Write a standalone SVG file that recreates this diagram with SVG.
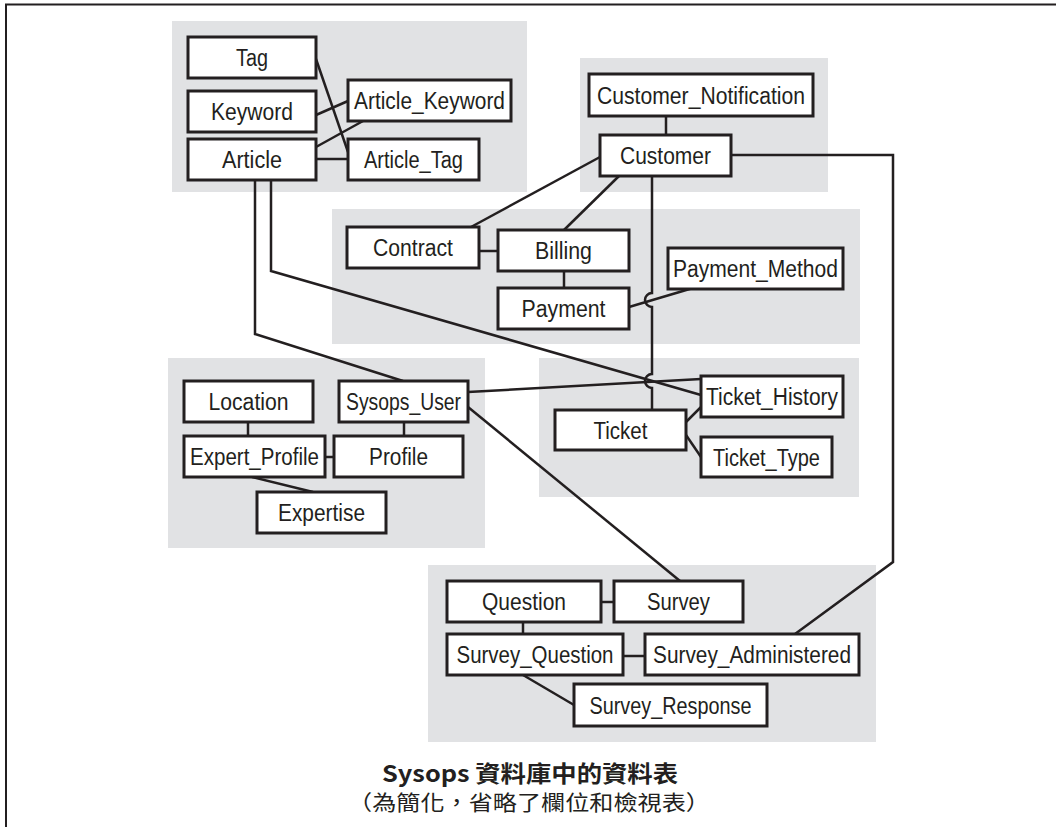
<svg xmlns="http://www.w3.org/2000/svg" width="1056" height="827" viewBox="0 0 1056 827">
<style>
.grp{fill:#e1e2e4}
.box{fill:#fff;stroke:#231f20;stroke-width:3}
.lbl{font-family:"Liberation Sans",Arial,sans-serif;font-size:23px;fill:#231f20;text-anchor:middle}
.ln{fill:none;stroke:#231f20;stroke-width:2.5;stroke-linejoin:miter}
.cap{font-family:"Noto Sans CJK TC","Noto Sans",sans-serif;fill:#231f20;text-anchor:middle}
</style>
<rect x="0" y="0" width="1056" height="827" fill="#fff"/>
<path d="M6 827 V4.5 H1056" fill="none" stroke="#231f20" stroke-width="2"/>
<g id="groups">
<rect class="grp" x="172" y="21" width="355" height="171"/>
<rect class="grp" x="580" y="58" width="248" height="134"/>
<rect class="grp" x="332" y="209" width="528" height="135"/>
<rect class="grp" x="168" y="358" width="317" height="190"/>
<rect class="grp" x="539" y="358" width="320" height="139"/>
<rect class="grp" x="428" y="565" width="448" height="177"/>
</g>
<g id="connectors">
<path class="ln" d="M316 59 L348 152"/>
<path class="ln" d="M316 115 L348 101"/>
<path class="ln" d="M316 147 L363 121"/>
<path class="ln" d="M316 159 H348"/>
<path class="ln" d="M666 116 V135"/>
<path class="ln" d="M600 157 L471 227"/>
<path class="ln" d="M619 176 L564 230"/>
<path class="ln" d="M652 176 V293 A7 7 0 0 0 652 307 V374 A7 7 0 0 0 652 388 V410"/>
<path class="ln" d="M731 155 H893 V562 L795 634"/>
<path class="ln" d="M479 251 H498"/>
<path class="ln" d="M564 271 V288"/>
<path class="ln" d="M629 307 L693 288"/>
<path class="ln" d="M255 180 V334 L403 381"/>
<path class="ln" d="M271 180 V271 L701 395"/>
<path class="ln" d="M468 392 L701 379"/>
<path class="ln" d="M468 407 L680 581"/>
<path class="ln" d="M248 422 V436"/>
<path class="ln" d="M404 422 V436"/>
<path class="ln" d="M325 457 H334"/>
<path class="ln" d="M252 477 L313 492"/>
<path class="ln" d="M686 422 L701 407"/>
<path class="ln" d="M686 435 L701 457"/>
<path class="ln" d="M601 602 H614"/>
<path class="ln" d="M523 622 V634"/>
<path class="ln" d="M623 656 H645"/>
<path class="ln" d="M523 675 L574 705"/>
</g>
<g id="n-tag"><rect class="box" x="188" y="37" width="128" height="41"/><text class="lbl" x="252" y="66" textLength="32" lengthAdjust="spacingAndGlyphs">Tag</text></g>
<g id="n-keyword"><rect class="box" x="188" y="91" width="128" height="41"/><text class="lbl" x="252" y="120" textLength="82" lengthAdjust="spacingAndGlyphs">Keyword</text></g>
<g id="n-article"><rect class="box" x="188" y="139" width="128" height="41"/><text class="lbl" x="252" y="168" textLength="60" lengthAdjust="spacingAndGlyphs">Article</text></g>
<g id="n-article-keyword"><rect class="box" x="348" y="80" width="163" height="41"/><text class="lbl" x="429.5" y="109" textLength="151" lengthAdjust="spacingAndGlyphs">Article_Keyword</text></g>
<g id="n-article-tag"><rect class="box" x="348" y="139" width="131" height="41"/><text class="lbl" x="413.5" y="168" textLength="99" lengthAdjust="spacingAndGlyphs">Article_Tag</text></g>
<g id="n-customer-notification"><rect class="box" x="589" y="74" width="224" height="42"/><text class="lbl" x="701" y="103.5" textLength="208" lengthAdjust="spacingAndGlyphs">Customer_Notification</text></g>
<g id="n-customer"><rect class="box" x="600" y="135" width="131" height="41"/><text class="lbl" x="665.5" y="164" textLength="91" lengthAdjust="spacingAndGlyphs">Customer</text></g>
<g id="n-contract"><rect class="box" x="347" y="227" width="132" height="41"/><text class="lbl" x="413" y="256" textLength="80" lengthAdjust="spacingAndGlyphs">Contract</text></g>
<g id="n-billing"><rect class="box" x="498" y="230" width="131" height="41"/><text class="lbl" x="563.5" y="259" textLength="57" lengthAdjust="spacingAndGlyphs">Billing</text></g>
<g id="n-payment"><rect class="box" x="498" y="288" width="131" height="41"/><text class="lbl" x="563.5" y="317" textLength="84" lengthAdjust="spacingAndGlyphs">Payment</text></g>
<g id="n-payment-method"><rect class="box" x="668" y="248" width="175" height="41"/><text class="lbl" x="755.5" y="277" textLength="165" lengthAdjust="spacingAndGlyphs">Payment_Method</text></g>
<g id="n-location"><rect class="box" x="184" y="381" width="129" height="41"/><text class="lbl" x="248.5" y="410" textLength="80" lengthAdjust="spacingAndGlyphs">Location</text></g>
<g id="n-sysops-user"><rect class="box" x="339" y="381" width="129" height="41"/><text class="lbl" x="403.5" y="410" textLength="115" lengthAdjust="spacingAndGlyphs">Sysops_User</text></g>
<g id="n-expert-profile"><rect class="box" x="184" y="436" width="141" height="41"/><text class="lbl" x="254.5" y="465" textLength="129" lengthAdjust="spacingAndGlyphs">Expert_Profile</text></g>
<g id="n-profile"><rect class="box" x="334" y="436" width="129" height="41"/><text class="lbl" x="398.5" y="465" textLength="59" lengthAdjust="spacingAndGlyphs">Profile</text></g>
<g id="n-expertise"><rect class="box" x="257" y="492" width="129" height="41"/><text class="lbl" x="321.5" y="521" textLength="87" lengthAdjust="spacingAndGlyphs">Expertise</text></g>
<g id="n-ticket-history"><rect class="box" x="701" y="376" width="142" height="41"/><text class="lbl" x="772" y="405" textLength="132" lengthAdjust="spacingAndGlyphs">Ticket_History</text></g>
<g id="n-ticket"><rect class="box" x="555" y="410" width="131" height="40"/><text class="lbl" x="620.5" y="438.5" textLength="54" lengthAdjust="spacingAndGlyphs">Ticket</text></g>
<g id="n-ticket-type"><rect class="box" x="701" y="437" width="131" height="40"/><text class="lbl" x="766.5" y="465.5" textLength="107" lengthAdjust="spacingAndGlyphs">Ticket_Type</text></g>
<g id="n-question"><rect class="box" x="447" y="581" width="154" height="41"/><text class="lbl" x="524" y="610" textLength="84" lengthAdjust="spacingAndGlyphs">Question</text></g>
<g id="n-survey"><rect class="box" x="614" y="581" width="129" height="41"/><text class="lbl" x="678.5" y="610" textLength="63" lengthAdjust="spacingAndGlyphs">Survey</text></g>
<g id="n-survey-question"><rect class="box" x="447" y="634" width="176" height="41"/><text class="lbl" x="535" y="663" textLength="157" lengthAdjust="spacingAndGlyphs">Survey_Question</text></g>
<g id="n-survey-administered"><rect class="box" x="645" y="634" width="214" height="41"/><text class="lbl" x="752" y="663" textLength="198" lengthAdjust="spacingAndGlyphs">Survey_Administered</text></g>
<g id="n-survey-response"><rect class="box" x="574" y="684" width="193" height="42"/><text class="lbl" x="670.5" y="713.5" textLength="162" lengthAdjust="spacingAndGlyphs">Survey_Response</text></g>
<g id="caption">
<text class="cap" x="530" y="782" font-size="23" font-weight="bold" textLength="296" lengthAdjust="spacingAndGlyphs">Sysops 資料庫中的資料表</text>
<text class="cap" x="529" y="810" font-size="21" textLength="362" lengthAdjust="spacingAndGlyphs">（為簡化，省略了欄位和檢視表）</text>
</g>
</svg>
